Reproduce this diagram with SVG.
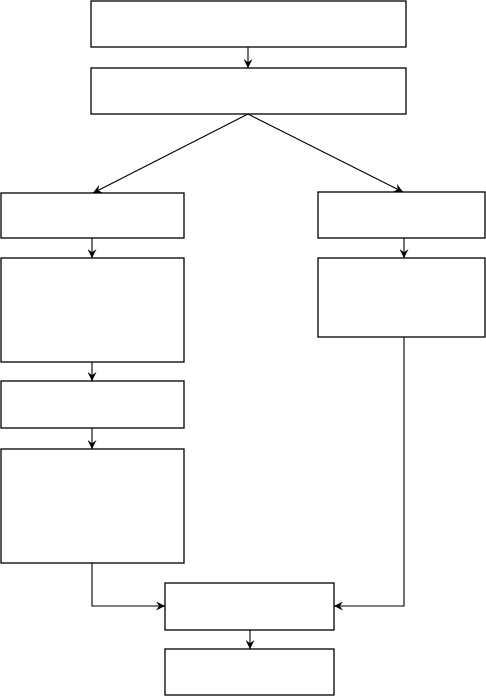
<svg xmlns="http://www.w3.org/2000/svg" width="486" height="696" viewBox="0 0 486 696">
<style>
.box{fill:#fff;stroke:#000;stroke-width:1.3}
.con{fill:none;stroke:#000;stroke-width:1.1}
</style>
<defs>
<marker id="arr" viewBox="0 0 10 10" refX="10" refY="5" markerWidth="9" markerHeight="9" markerUnits="userSpaceOnUse" orient="auto">
<path d="M0,0 L10,5 L0,10 L3.5,5 z" fill="#000"/>
</marker>
</defs>
<rect width="486" height="696" fill="#fff"/>
<g id="connectors">
<line class="con" x1="248" y1="47" x2="248" y2="68" marker-end="url(#arr)"/>
<line class="con" x1="248" y1="114" x2="93" y2="193" marker-end="url(#arr)"/>
<line class="con" x1="248" y1="114" x2="403" y2="192" marker-end="url(#arr)"/>
<line class="con" x1="92" y1="238" x2="92" y2="258" marker-end="url(#arr)"/>
<line class="con" x1="92" y1="362" x2="92" y2="381" marker-end="url(#arr)"/>
<line class="con" x1="92" y1="428" x2="92" y2="449" marker-end="url(#arr)"/>
<line class="con" x1="404" y1="238" x2="404" y2="258" marker-end="url(#arr)"/>
<polyline class="con" points="92,563 92,606 165,606" marker-end="url(#arr)"/>
<polyline class="con" points="404,337 404,606 334,606" marker-end="url(#arr)"/>
<line class="con" x1="250" y1="630" x2="250" y2="649" marker-end="url(#arr)"/>
</g>
<g id="n1"><rect class="box" x="91" y="1" width="315" height="46"/></g>
<g id="n2"><rect class="box" x="91" y="68" width="315" height="46"/></g>
<g id="n3"><rect class="box" x="1" y="193" width="183" height="45"/></g>
<g id="n4"><rect class="box" x="1" y="258" width="183" height="104"/></g>
<g id="n5"><rect class="box" x="1" y="381" width="183" height="47"/></g>
<g id="n6"><rect class="box" x="1" y="449" width="183" height="114"/></g>
<g id="n7"><rect class="box" x="318" y="192" width="167" height="46"/></g>
<g id="n8"><rect class="box" x="318" y="258" width="167" height="79"/></g>
<g id="n9"><rect class="box" x="165" y="583" width="169" height="47"/></g>
<g id="n10"><rect class="box" x="165" y="649" width="169" height="46"/></g>
</svg>
